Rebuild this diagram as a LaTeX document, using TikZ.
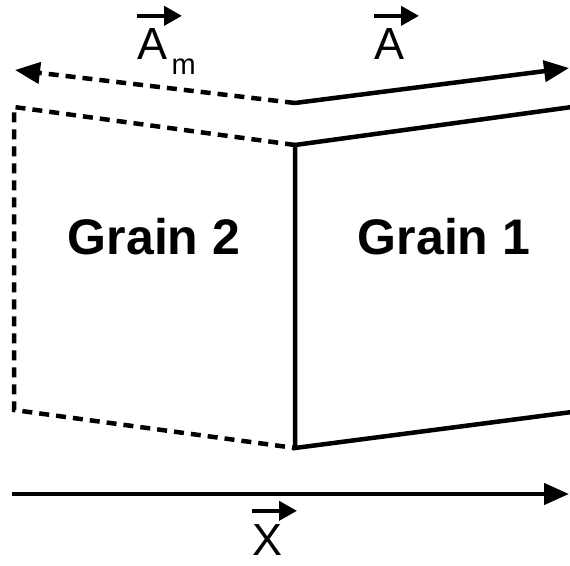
\documentclass[tikz,border=0pt]{standalone}
\usepackage{fontspec}
\setmainfont{Liberation Sans}
\usetikzlibrary{arrows.meta,calc}
\tikzset{
  edge/.style={line width=4.5pt, line join=miter},
  ghost/.style={line width=4.5pt, dash pattern=on 10pt off 7pt},
  vecarrow/.style={line width=4.5pt, -{Triangle[length=25pt,width=21pt]}},
  overarrow/.style={line width=4pt, -{Triangle[length=18pt,width=19pt]}},
  grainlabel/.style={font=\fontsize{50}{58}\selectfont\bfseries, inner sep=0pt, anchor=base},
  veclabel/.style={font=\fontsize{45}{52}\selectfont, inner sep=0pt, anchor=base west}
}
\begin{document}
\begin{tikzpicture}[x=1pt,y=1pt]
        \useasboundingbox (0,0) rectangle (570,565);
        % corners of the two grains
        \coordinate (g1tl) at (295,420);
        \coordinate (g1tr) at (572,458);
        \coordinate (g1bl) at (295,117);
        \coordinate (g1br) at (572,153);
        \coordinate (g2tl) at (14,458);
        \coordinate (g2bl) at (14,155);
        % grain 1, solid
        \draw[edge] (g1tr) -- (g1tl) -- (g1bl) -- (g1br);
        % grain 2, dashed
        \draw[ghost] (g1tl) -- (g2tl) -- (g2bl) -- (g1bl);
        % vectors A and A_m
        \coordinate (orig) at (295,462);
        \coordinate (tipA) at (569,497);
        \coordinate (tipAm) at (15,495);
        \draw[vecarrow] (orig) -- (tipA);
        \draw[vecarrow, dash pattern=on 10pt off 7pt] (orig) -- (tipAm);
        % vector X
        \coordinate (xstart) at (12,71);
        \coordinate (xend) at (569,71);
        \draw[vecarrow] (xstart) -- (xend);
        % labels
        \node[grainlabel] (grain2) at (154,310) {Grain 2};
        \node[grainlabel] (grain1) at (444,310) {Grain 1};
        \node[veclabel] (labA) at (374,505) {A};
        \node[veclabel] (labAm) at (137,505) {A};
        \node[font=\fontsize{29}{34}\selectfont, inner sep=0pt, anchor=base west] (sub) at ($(labAm.base east)+(4,-15)$) {m};
        \node[veclabel] (labX) at (252,10) {X};
        \foreach \n in {labA,labAm,labX}{
            \draw[overarrow] ($(\n.north west)+(0,13)$) -- ++(45,0);
        }
    \end{tikzpicture}
\end{document}
